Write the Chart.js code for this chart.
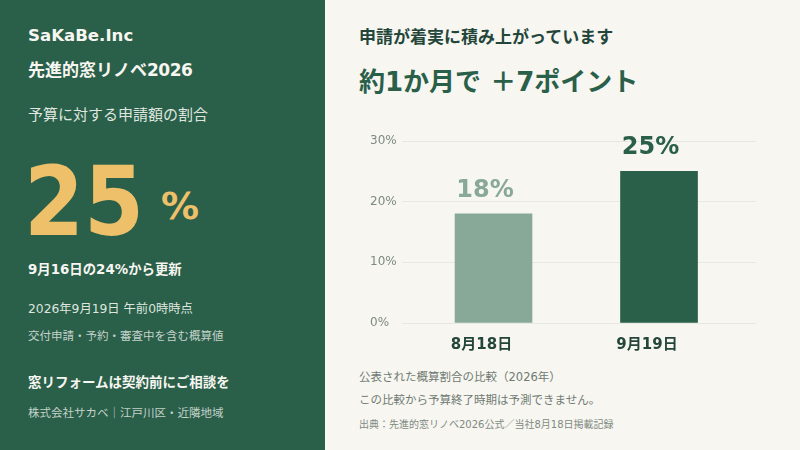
<!DOCTYPE html>
<html lang="ja"><head><meta charset="utf-8">
<style>
html,body{margin:0;padding:0;width:800px;height:450px;overflow:hidden;background:#f7f6f0;font-family:"DejaVu Sans","Noto Sans CJK JP",sans-serif}
#panel{position:absolute;left:0;top:0;width:325px;height:450px;background:#2a5f4a}
.t{position:absolute;white-space:pre;line-height:1}
#wrap{position:absolute;left:370px;top:120px;width:386px;height:240px}
</style></head><body>
<div id="panel"></div>
<div class="t" style="left:28px;top:28px;font-size:16.6px;font-weight:700;color:#f7f6f0">SaKaBe.Inc</div>
<div class="t" style="left:28px;top:62px;font-size:17px;font-weight:700;color:#f7f6f0">先進的窓リノベ<span style="letter-spacing:-.5px">2026</span></div>
<div class="t" style="left:28px;top:108px;font-size:15px;color:#dfe6df">予算に対する申請額の割合</div>
<div class="t" style="left:24px;top:154px;font-size:96px;font-weight:700;font-family:'DejaVu Sans Condensed';color:#efc06a">25</div>
<div class="t" style="left:161px;top:187px;font-size:38px;font-weight:700;color:#efc06a">%</div>
<div class="t" style="left:28px;top:263px;font-size:13.4px;font-weight:700;color:#f7f6f0">9月16日の24%から更新</div>
<div class="t" style="left:28px;top:303px;font-size:12.3px;color:#dfe6df">2026年9月19日 午前0時時点</div>
<div class="t" style="left:28px;top:331px;font-size:11.5px;color:#c4d2c9">交付申請・予約・審査中を含む概算値</div>
<div class="t" style="left:28px;top:376px;font-size:13.5px;font-weight:700;color:#f7f6f0">窓リフォームは契約前にご相談を</div>
<div class="t" style="left:28px;top:408px;font-size:11.5px;color:#c4d2c9">株式会社サカベ｜江戸川区・近隣地域</div>
<div class="t" style="left:359px;top:29px;font-size:17px;font-weight:700;color:#24463a">申請が着実に積み上がっています</div>
<div class="t" style="left:359px;top:69px;font-size:26px;font-weight:700;color:#2a5f4a">約1か月で ＋7ポイント</div>
<div class="t" style="left:359px;top:372px;font-size:11.5px;color:#6f7a73">公表された概算割合の比較（2026年）</div>
<div class="t" style="left:359px;top:395px;font-size:11.5px;color:#6f7a73">この比較から予算終了時期は予測できません。</div>
<div class="t" style="left:359px;top:420px;font-size:10px;color:#7f8a83">出典：先進的窓リノベ2026公式／当社8月18日掲載記録</div>
<div id="wrap"><canvas id="c" width="386" height="240"></canvas></div>
<script src="https://cdn.jsdelivr.net/npm/chart.js@4"></script>
<script>
const dates=['8月18日','9月19日'];
const shares=[18,25];
const barColors=['#88a998','#2a5f4a'];
const yTicks=[0,10,20,30];
const FONT='"DejaVu Sans","Noto Sans CJK JP",sans-serif';
const valueLabels={id:'valueLabels',afterDatasetsDraw(ch){
  const m=ch.getDatasetMeta(0),c=ch.ctx;
  c.save();c.font='700 24px '+FONT;c.textAlign='center';c.textBaseline='alphabetic';
  m.data.forEach((b,i)=>{c.fillStyle=barColors[i];c.fillText(shares[i]+'%',b.x-8.5,b.y-17);});
  c.restore();
}};
new Chart(document.getElementById('c'),{
  type:'bar',
  data:{labels:dates,datasets:[{data:shares.map((y,x)=>({x,y})),backgroundColor:barColors,barThickness:77,borderWidth:0}]},
  options:{responsive:false,animation:false,devicePixelRatio:1,
    layout:{padding:{top:21,left:0,right:0,bottom:0}},
    plugins:{legend:{display:false},tooltip:{enabled:false}},
    scales:{
      x:{type:'linear',offset:false,min:-0.553,max:1.586,grid:{display:false},border:{display:false},
        afterBuildTicks(a){a.ticks=dates.map((_,i)=>({value:i}));},
        afterFit(a){a.height=37;},
        ticks:{autoSkip:false,maxRotation:0,labelOffset:-12,padding:5,color:'#24463a',font:{family:FONT,size:15,weight:'700'},callback:v=>dates[v]}},
      y:{min:0,max:30,border:{display:false},
        grid:{color:'#e6e8e2',drawTicks:false,lineWidth:1},
        afterBuildTicks(a){a.ticks=yTicks.map(value=>({value}));},
        afterFit(a){a.width=32;},
        ticks:{crossAlign:'far',padding:0,labelOffset:0,color:'#7d8a82',font:{family:FONT,size:12},callback:v=>v+'%'}}
    }},
  plugins:[valueLabels]
});
</script>
</body></html>
